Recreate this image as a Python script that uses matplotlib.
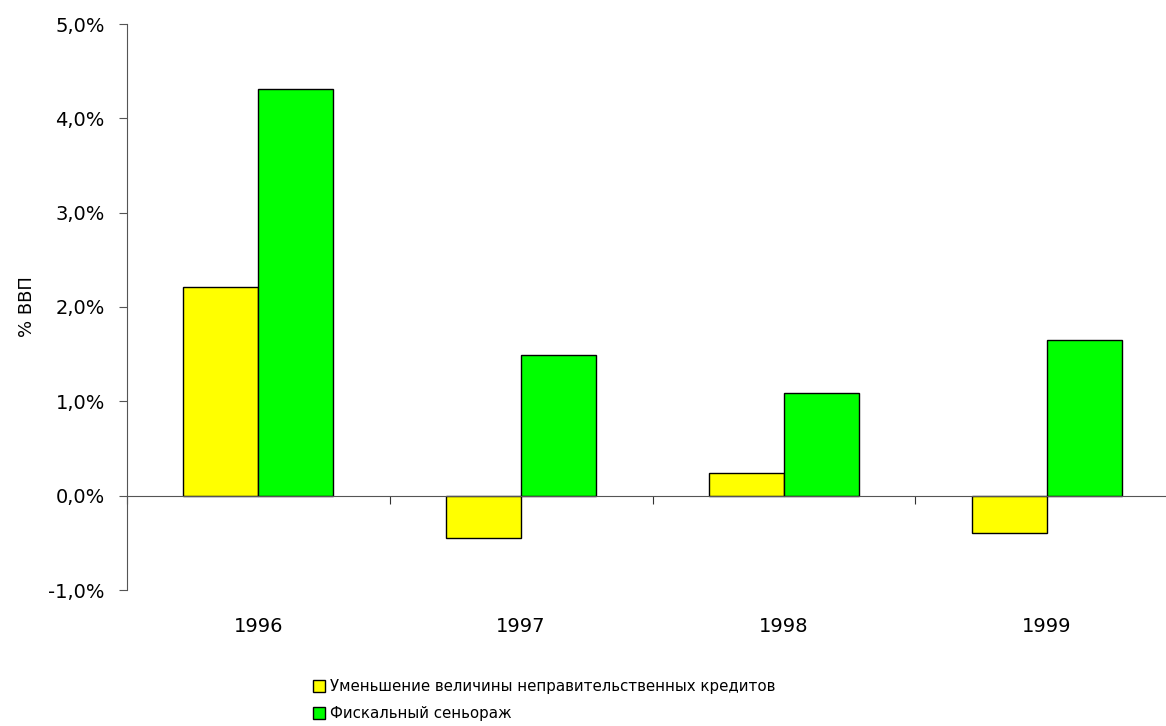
import numpy as np
import matplotlib.pyplot as plt
from matplotlib.patches import Patch
from matplotlib.ticker import FuncFormatter, FixedLocator

years = ['1996', '1997', '1998', '1999']
credit_decrease = [2.21, -0.45, 0.24, -0.40]
fiscal_seigniorage = [4.31, 1.49, 1.09, 1.65]
series_names = ['Уменьшение величины неправительственных кредитов',
                'Фискальный сеньораж']
y_ticks = [-1, 0, 1, 2, 3, 4, 5]

plt.rcParams['font.family'] = ['DejaVu Sans']

fig = plt.figure(figsize=(11.66, 7.26), dpi=100)
ax = fig.add_axes([127 / 1166, 1 - 590 / 726, 1051 / 1166, 566 / 726])

x = np.arange(len(years))
w = 0.285
ax.bar(x - w / 2, credit_decrease, w, color='#FFFF00', edgecolor='black', linewidth=1)
ax.bar(x + w / 2, fiscal_seigniorage, w, color='#00FF00', edgecolor='black', linewidth=1)

ax.set_xlim(-0.5, len(years) - 0.5)
ax.set_ylim(-1, 5)
ax.yaxis.set_major_locator(FixedLocator(y_ticks))
ax.yaxis.set_major_formatter(FuncFormatter(lambda v, p: ('%.1f%%' % v).replace('.', ',')))
ax.tick_params(axis='y', direction='out', length=6, color='#555555', labelsize=14, pad=10)

for s in ['top', 'right']:
    ax.spines[s].set_visible(False)
ax.spines['left'].set_color('#555555')
ax.spines['bottom'].set_position(('data', 0))
ax.spines['bottom'].set_color('#555555')

ax.set_xticks(np.arange(-0.5, len(years), 1.0))
ax.set_xticklabels([])
ax.tick_params(axis='x', direction='out', length=6, color='#333333')

for i, yr in enumerate(years):
    ax.text(i, -0.065, yr, transform=ax.get_xaxis_transform(), ha='center', va='center', fontsize=14)

ax.set_ylabel('% ВВП', fontsize=13, labelpad=9)

handles = [Patch(facecolor='#FFFF00', edgecolor='black'),
           Patch(facecolor='#00FF00', edgecolor='black')]
fig.legend(handles, series_names, loc='upper left', bbox_to_anchor=(305 / 1166, 1 - 672 / 726),
           frameon=False, fontsize=10.8, handlelength=0.85, handleheight=0.85,
           handletextpad=0.35, labelspacing=0.75, borderpad=0)

fig.savefig('out.png', dpi=100)
